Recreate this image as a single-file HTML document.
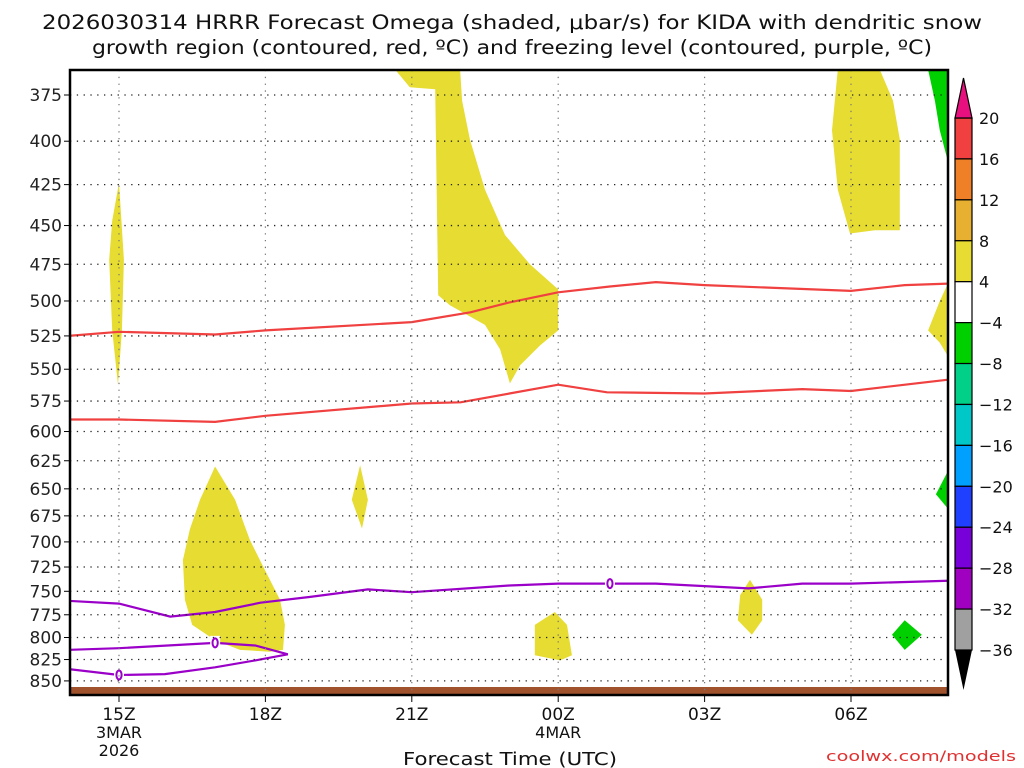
<!DOCTYPE html>
<html><head><meta charset="utf-8"><style>
html,body{margin:0;padding:0;background:#fff;}
svg{display:block;font-family:"DejaVu Sans","Liberation Sans",sans-serif;}
</style></head><body>
<svg id="chart" width="1024" height="768" viewBox="0 0 1024 768">
<text x="512" y="29" text-anchor="middle" font-size="19.5" fill="#111" textLength="940" lengthAdjust="spacingAndGlyphs">2026030314 HRRR Forecast Omega (shaded, μbar/s) for KIDA with dendritic snow</text>
<text x="512" y="54" text-anchor="middle" font-size="19.5" fill="#111" textLength="840" lengthAdjust="spacingAndGlyphs">growth region (contoured, red, ºC) and freezing level (contoured, purple, ºC)</text>
<g id="plot"></g>
<text x="510" y="765" text-anchor="middle" font-size="18" fill="#111" textLength="214" lengthAdjust="spacingAndGlyphs">Forecast Time (UTC)</text>
<text x="1016" y="761" text-anchor="end" font-size="14" fill="#e03030" textLength="190" lengthAdjust="spacingAndGlyphs">coolwx.com/models</text>
</svg>
<script>
const yTicks=[375,400,425,450,475,500,525,550,575,600,625,650,675,700,725,750,775,800,825,850];
const xTickHours=[15,18,21,24,27,30];
const xTickLabels=["15Z","18Z","21Z","00Z","03Z","06Z"];
const xSubLabels={15:["3MAR","2026"],24:["4MAR"]};
const cbLevels=[20,16,12,8,4,-4,-8,-12,-16,-20,-24,-28,-32,-36];
const cbColors=["#f04040","#f08028","#e8b030","#e6dc32","#ffffff","#00d000","#00d088","#00c8c8","#00a0ff","#2040ff","#7800d8","#a000c0","#a0a0a0"];
const dgzTopH=[13.95,15,16.97,18,21,22.2,23,24,25.06,26,27,30,31.1,32];
const dgzTopP=[525,522,524,521,515,508,501,494,490,487,489,493,489,488];
const dgzBotH=[13.95,15,16.97,18,21,22,23,24,25,27,29,30,32];
const dgzBotP=[590,590,592,587,577,576,569,562,568,569,565.5,567,558];
const frzH=[13.95,15,16.05,16.97,17.9,18.9,20.1,21,23,24,25,26,27.9,29,30,32];
const frzP=[760,763,777,772,762,756,748,751,744,742,742,742,747,742,742,739];
const frzLoopH=[13.95,15,16.97,17.79,18.46,17.79,16.97,15.94,15,13.95];
const frzLoopP=[814,812,806,809,819,826,834,842,843,836];
const yellowShapes=[
 {h:[15,15.1,15.06,14.98,14.86,14.8,14.86],p:[424,472,521,562,521,472,447]},
 {h:[20.66,21.99,22.03,22.19,22.5,22.91,23.42,24,24,23.63,23.22,23.01,22.81,22.5,21.78,21.54,21.48,20.96],p:[362,362,378,399,428,456,475,492,521,532,547,561,535,517,503,496,372,371]},
 {h:[29.73,30.59,30.86,31,31,30.49,29.98,29.73,29.61,29.69],p:[362,362,378,399,453,453,455,428,394,372]},
 {h:[32,31.82,31.58,31.82,32],p:[487,500,521,530,541]},
 {h:[19.94,20.1,19.98,19.77],p:[629,660,687,660]},
 {h:[16.97,17.38,17.68,17.99,18.3,18.4,18.36,18.09,17.48,16.97,16.5,16.35,16.31,16.45,16.66],p:[630,660,698,728,759,786,814,816,814,803,786,759,718,688,660]},
 {h:[23.52,23.93,24.18,24.28,24.04,23.52],p:[786,772,786,820,826,820]},
 {h:[27.93,28.18,28.18,27.97,27.68,27.73],p:[738,759,781,797,781,754]}
];
const greenShapes=[
 {h:[31.58,32,32,31.82,31.72],p:[362,362,413,394,378]},
 {h:[32,31.74,32],p:[633,655,669]},
 {h:[31.1,31.45,31.1,30.84],p:[781,797,814,797]}
];
const zeroLabelH=[25.06,16.97,15];
const zeroLabelP=[742,806,843];

const X0=70,X1=948,Y0=70,Y1=695;
const xs=h=>119+(h-15)*48.8;
const ys=p=>95+716*Math.log(p/375);
const NS="http://www.w3.org/2000/svg";
const plot=document.getElementById('plot');
function mk(tag,attrs,parent){const e=document.createElementNS(NS,tag);for(const k in attrs)e.setAttribute(k,attrs[k]);(parent||plot).appendChild(e);return e;}
function pts(H,P){return H.map((h,i)=>xs(h).toFixed(1)+","+ys(P[i]).toFixed(1)).join(" ");}
const defs=mk('defs',{});
const cp=mk('clipPath',{id:'clip'},defs);mk('rect',{x:X0,y:Y0,width:X1-X0,height:Y1-Y0},cp);
const g=mk('g',{'clip-path':'url(#clip)'});
yellowShapes.forEach(s=>{const e=mk('polygon',{points:pts(s.h,s.p),fill:'#e6dc32'},g);

});
greenShapes.forEach(s=>{const e=mk('polygon',{points:pts(s.h,s.p),fill:'#00d000'},g);

});
const gnd=mk('rect',{x:X0,y:687,width:X1-X0,height:8,fill:'#a0522d'},g);


yTicks.forEach(p=>{const y=ys(p);
 const l=mk('line',{x1:X0,x2:X1,y1:y,y2:y,stroke:'#222','stroke-width':1.3,'stroke-dasharray':'1.3 5.5'});
 
 
 mk('line',{x1:X0-6,x2:X0,y1:y,y2:y,stroke:'#000'});
 const t=mk('text',{x:X0-8,y:y+6,'text-anchor':'end','font-size':17,fill:'#222'});t.textContent=p;
 
 });
xTickHours.forEach((h,i)=>{const x=xs(h);
 const l=mk('line',{x1:x,x2:x,y1:Y0,y2:Y1,stroke:'#777','stroke-width':1.2,'stroke-dasharray':'1.3 5.5'});
 
 
 mk('line',{x1:x,x2:x,y1:Y1,y2:Y1+7,stroke:'#000'});
 const t=mk('text',{x:x,y:720,'text-anchor':'middle','font-size':17,fill:'#111'});t.textContent=xTickLabels[i];
 
 
 (xSubLabels[h]||[]).forEach((s,j)=>{const u=mk('text',{x:x,y:738+j*18,'text-anchor':'middle','font-size':16,fill:'#111'});u.textContent=s;
 
 });});
[[dgzTopH,dgzTopP],[dgzBotH,dgzBotP]].forEach(d=>{const e=mk('polyline',{points:pts(d[0],d[1]),fill:'none',stroke:'#f04040','stroke-width':2.2},g);

});
const f1=mk('polyline',{points:pts(frzH,frzP),fill:'none',stroke:'#9a00c8','stroke-width':2.2},g);


const f2=mk('polyline',{points:pts(frzLoopH,frzLoopP),fill:'none',stroke:'#9a00c8','stroke-width':2.2},g);


zeroLabelH.forEach((h,i)=>{const x=xs(h),y=ys(zeroLabelP[i]);
 mk('rect',{x:x-5,y:y-7,width:10,height:14,fill:'#fff'},g);
 const e=mk('ellipse',{cx:x,cy:y,rx:2.6,ry:4.5,fill:'none',stroke:'#9a00c8','stroke-width':2},g);
 
 });
const fr=mk('rect',{x:X0,y:Y0,width:X1-X0,height:Y1-Y0,fill:'none',stroke:'#000','stroke-width':2.5});


const CBX=955,CBW=17,CBT=118,CBB=650;
const step=(CBB-CBT)/cbColors.length;
cbColors.forEach((c,i)=>{const r=mk('rect',{x:CBX,y:CBT+i*step,width:CBW,height:step,fill:c,stroke:'#000','stroke-width':1.2});
 
 });
const tt=mk('polygon',{points:`${CBX},${CBT} ${CBX+CBW},${CBT} ${CBX+CBW/2},78`,fill:'#e8107f',stroke:'#000','stroke-width':1.2});


const tb=mk('polygon',{points:`${CBX},${CBB} ${CBX+CBW},${CBB} ${CBX+CBW/2},690`,fill:'#000'});


cbLevels.forEach((v,i)=>{const t=mk('text',{x:979,y:CBT+i*step+6,'font-size':16,fill:'#111'});t.textContent=v<0?'−'+(-v):v;
 
 });
</script>
</body></html>
